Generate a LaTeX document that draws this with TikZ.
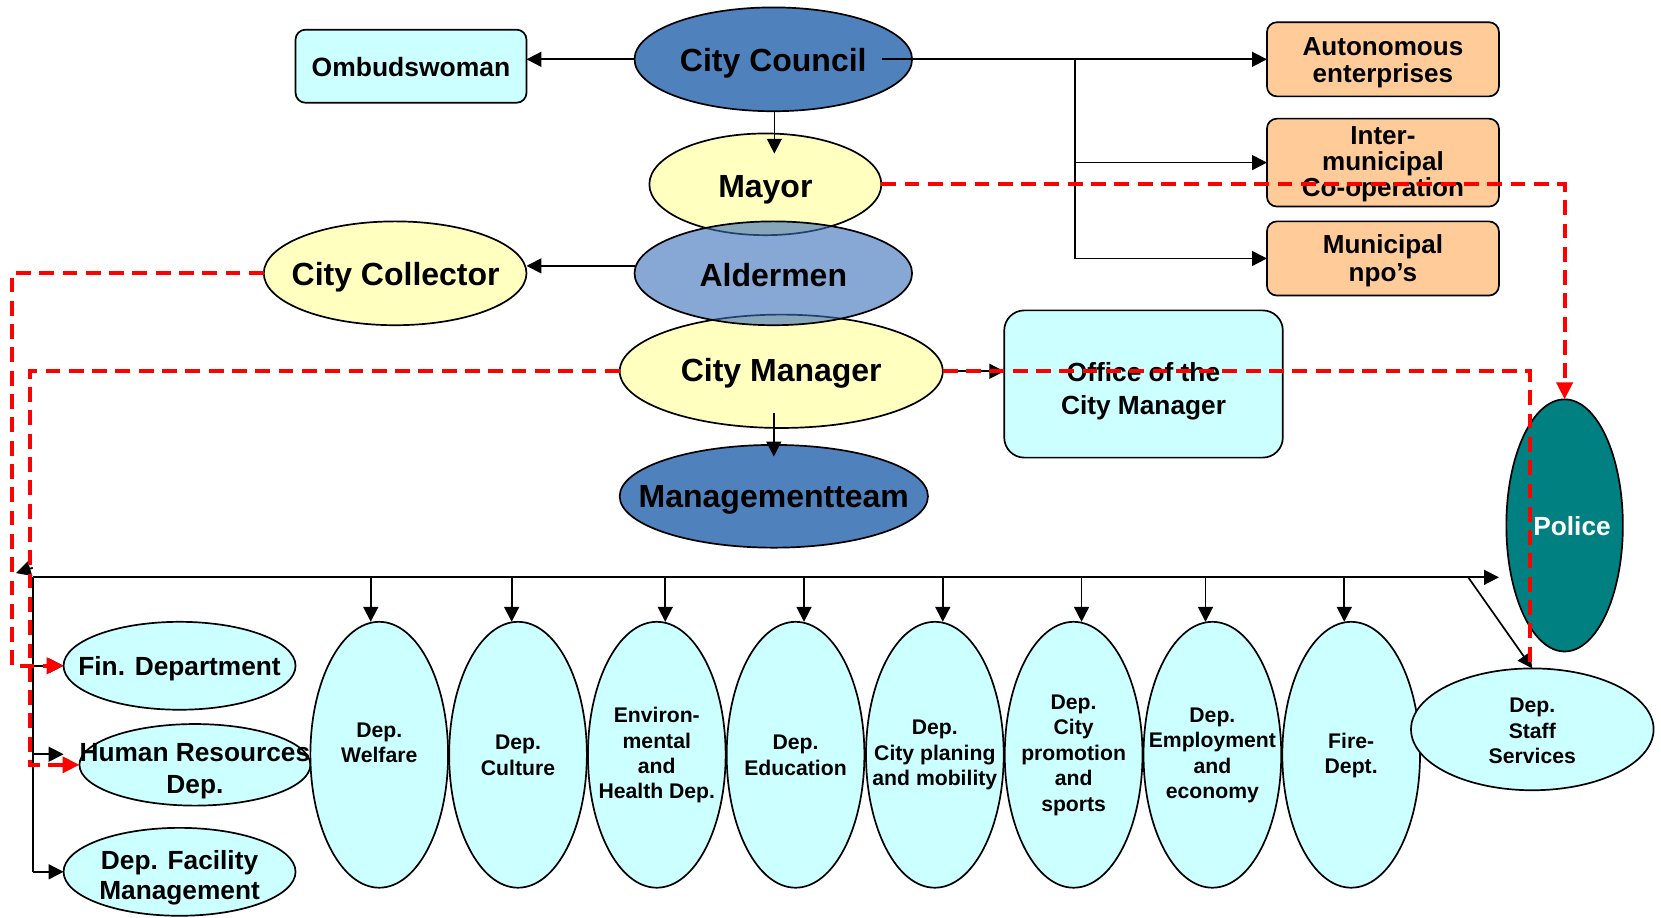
\documentclass[tikz,border=0pt]{standalone}
\usepackage{fontspec}
\setmainfont{Liberation Sans}
\usetikzlibrary{shapes.geometric,arrows.meta,calc}
\definecolor{cyanL}{HTML}{CCFFFF}
\definecolor{peachC}{HTML}{FFCC99}
\definecolor{yelC}{HTML}{FFFFC0}
\definecolor{blueD}{HTML}{4F81BD}
\definecolor{blueA}{HTML}{376CB7}
\definecolor{policeC}{HTML}{008080}
\begin{document}
\begin{tikzpicture}[x=0.5pt,y=-0.5pt,
  ell/.style={ellipse, draw=black, line width=0.8pt, inner sep=0pt, outer sep=0pt},
  rbox/.style={rectangle, rounded corners=4.7pt, draw=black, line width=0.8pt, inner sep=0pt, outer sep=0pt},
  big/.style={font=\bfseries\fontsize{15.1}{17}\selectfont, align=center, inner sep=0pt},
  mid/.style={font=\bfseries\fontsize{12.4}{12.6}\selectfont, align=center, inner sep=0pt},
  lft/.style={font=\bfseries\fontsize{12.4}{15}\selectfont, align=center, inner sep=0pt},
  small/.style={font=\bfseries\fontsize{10}{12}\selectfont, align=center, inner sep=0pt},
  dept/.style={ell, fill=cyanL, minimum width=65pt, minimum height=125.5pt},
  arr/.style={-{Triangle[length=7pt,width=7pt]}, line width=0.8pt},
  rdash/.style={draw=red, line width=1.9pt, dash pattern=on 7pt off 4pt},
  rarr/.style={rdash, -{Triangle[length=8pt,width=7.5pt]}}]
\useasboundingbox (0,0) rectangle (1568,866);

% ---------- top nodes ----------
\node[rbox, fill=cyanL, minimum width=109pt, minimum height=34.5pt] (omb) at (388,62.5) {};
\node[ell, fill=blueD, minimum width=131pt, minimum height=49pt] (cc) at (730,56) {};
\node[ell, fill=yelC, minimum width=109.5pt, minimum height=48pt] (mayor) at (722.5,174) {};
\node[ell, fill=yelC, minimum width=152.5pt, minimum height=53.5pt] (cm) at (737.5,350.5) {};
\node[ell, fill=blueA, fill opacity=0.6, minimum width=131pt, minimum height=49pt] (ald) at (730,258) {};
\node[ell, fill=yelC, minimum width=124pt, minimum height=49pt] (coll) at (373,258) {};
\node[ell, fill=blueD, minimum width=145.5pt, minimum height=48.5pt] (mt) at (730.5,468.5) {};
\node[rbox, fill=cyanL, rounded corners=9.5pt, minimum width=131.5pt, minimum height=69.5pt] (office) at (1079.5,362.5) {};
\node[rbox, fill=peachC, minimum width=109.5pt, minimum height=35pt] (auto) at (1305.5,56) {};
\node[rbox, fill=peachC, minimum width=109.5pt, minimum height=41.5pt] (inter) at (1305.5,153.5) {};
\node[rbox, fill=peachC, minimum width=109.5pt, minimum height=35pt] (npo) at (1305.5,244) {};
\node[ell, fill=policeC, minimum width=55pt, minimum height=119pt] (police) at (1477,496) {};

% ---------- bottom nodes ----------
\node[ell, fill=cyanL, minimum width=109.5pt, minimum height=41.5pt] (fin) at (169.5,628.5) {};
\node[ell, fill=cyanL, minimum width=109pt, minimum height=38.5pt] (hr) at (184,722) {};
\node[ell, fill=cyanL, minimum width=109.5pt, minimum height=41.5pt] (fac) at (169.5,823) {};
\node[dept] (welfare) at (358,712.5) {};
\node[dept] (culture) at (489,712.5) {};
\node[dept] (env) at (620,712.5) {};
\node[dept] (edu) at (751,712.5) {};
\node[dept] (plan) at (882.5,712.5) {};
\node[dept] (promo) at (1013.5,712.5) {};
\node[dept] (empl) at (1144.5,712.5) {};
\node[dept] (fire) at (1275.5,712.5) {};
\node[ell, fill=cyanL, minimum width=114.5pt, minimum height=57.5pt] (staff) at (1446.5,688.5) {};

% ---------- texts ----------
\node[mid, font=\bfseries\fontsize{12.5}{13}\selectfont] (omb-t) at (388,63) {Ombudswoman};
\node[big] (cc-t) at (730,60) {City Council};
\node[big] (mayor-t) at (722.5,179) {Mayor};
\node[big] (ald-t) at (730,260) {Aldermen};
\node[big] (cm-t) at (737.5,352) {City Manager};
\node[big] (coll-t) at (373.5,262) {City Collector};
\node[big] (mt-t) at (730.5,472) {Managementteam};
\node[mid, font=\bfseries\fontsize{12.4}{15.5}\selectfont] (office-t) at (1079.5,369) {Office of the\\City Manager};
\node[mid, font=\bfseries\fontsize{12.3}{12.6}\selectfont] (auto-t) at (1305.5,59) {Autonomous\\enterprises};
\node[mid, font=\bfseries\fontsize{12.3}{12.1}\selectfont] (inter-t) at (1305.5,155) {Inter-\\municipal\\Co-operation};
\node[mid, font=\bfseries\fontsize{12.3}{13.5}\selectfont] (npo-t) at (1305.5,246) {Municipal\\npo’s};
\node[mid, text=white] (police-t) at (1484,497) {Police};
\node[lft] (fin-t) at (169.5,631) {Fin. Department};
\node[lft] (hr-t) at (184,728) {Human Resources\\Dep.};
\node[lft, font=\bfseries\fontsize{12.4}{14.5}\selectfont] (fac-t) at (169.5,828.5) {Dep. Facility\\Management};
\node[small] (welfare-t) at (358,701) {Dep.\\Welfare};
\node[small] (culture-t) at (489,713) {Dep.\\Culture};
\node[small] (env-t) at (620,713) {Environ-\\mental\\and\\Health Dep.};
\node[small] (edu-t) at (751,713) {Dep.\\Education};
\node[small] (plan-t) at (882.5,713) {Dep.\\City planing\\and mobility};
\node[small] (promo-t) at (1013.5,713) {Dep.\\City\\promotion\\and\\sports};
\node[small] (empl-t) at (1144.5,713) {Dep.\\Employment\\and\\economy};
\node[small] (fire-t) at (1275.5,713) {Fire-\\Dept.};
\node[small] (staff-t) at (1446.5,690) {Dep.\\Staff\\Services};

% ---------- black connectors ----------
\draw[arr] (cc.west) -- (cc.west -| omb.east);
\draw[arr] (cc.south -| 731,0) -- ($(mayor.north -| 731,0)+(0,19)$);
\coordinate (aldL) at ($(ald.west)+(0,-7)$);
\draw[arr] (aldL) -- (aldL -| coll.east);
\draw[arr] (cm.east) -- (cm.east -| office.west);
\draw[arr] ($(mt.north)+(0,-30)$) -- ($(mt.north)+(0,11)$);
\draw[arr] ($(cc.east)+(-28,0)$) -- (cc.east -| auto.west);
\coordinate (br) at (1015,56);
\draw[arr] (br) |- (inter.west);
\draw[arr] (br) |- (npo.west);

\coordinate (busL) at (31,545);
\draw[arr] (busL) -- ($(busL -| police.west)+(-7,0)$);
\draw[arr] ($(busL)+(0,-9)$) -- ($(busL)+(-16,-4)$);
\draw[line width=0.8pt] (busL) -- (busL |- fac.west);
\draw[arr] (busL |- fin.west) -- (fin.west);
\coordinate (hrB) at ($(busL |- hr.west)+(0,-10)$);
\draw[arr] (hrB) -- (hrB -| fin.west);
\draw[arr] (busL |- fac.west) -- (fac.west);
\foreach \n/\dx in {welfare/-8, culture/-6, env/8, edu/8, plan/7.5, promo/7.5, empl/-6.5, fire/-6.5}{
  \coordinate (d-\n) at ($(\n.north)+(\dx,0)$);
  \draw[arr] (d-\n |- busL) -- (d-\n);
}
\coordinate (dg) at (1386,545);
\draw[arr] (dg) -- (staff.north);

% ---------- red dashed connectors ----------
\coordinate (rv1) at (11,0);
\coordinate (rv2) at (28,0);
\coordinate (rv3) at (1444,0);
\draw[rarr] (mayor.east) -| (police.north);
\draw[rarr] (coll.west) -- (coll.west -| rv1) -- (rv1 |- fin.west) -- (fin.west);
\draw[rarr] (cm.west) -- (cm.west -| rv2) -- (rv2 |- hr.west) -- (hr.west);
\draw[rdash] (cm.east) -- (cm.east -| rv3) -- (rv3 |- staff.north);
\end{tikzpicture}
\end{document}
